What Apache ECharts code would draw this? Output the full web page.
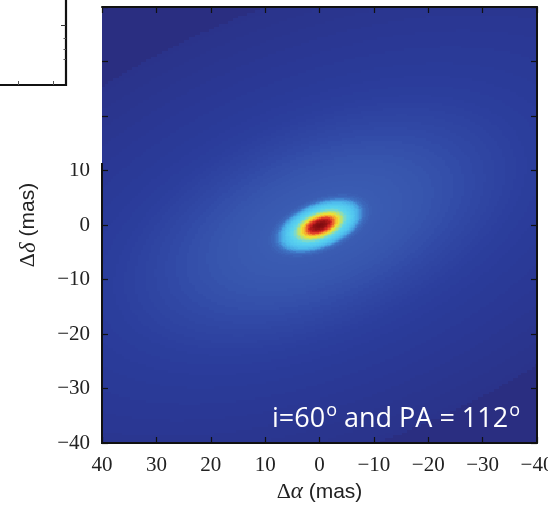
<!DOCTYPE html>
<html>
<head>
<meta charset="utf-8">
<script src="https://cdn.jsdelivr.net/npm/echarts@6/dist/echarts.min.js"></script>
<style>
  html, body { margin: 0; padding: 0; background: #ffffff; }
  #chart { width: 548px; height: 505px; }
</style>
</head>
<body>
<div id="chart"></div>
<script>
// Disk orientation (degrees)
const inclination = 60;
const positionAngle = 112;

// Brightness profile: deprojected radius (mas) -> normalised level
const profileRadius = [0, 0.25, 0.5, 0.75, 1, 1.25, 1.5, 1.75, 2, 2.25, 2.5, 2.75, 3, 3.25, 3.5, 3.75, 4, 4.25, 4.5, 4.75,
  5, 5.25, 5.5, 5.75, 6, 6.25, 6.5, 6.75, 7, 7.25, 7.5, 7.75, 8, 8.25, 8.5, 8.75, 9, 9.5,
  10, 11, 12, 14, 16, 18, 20, 22, 24, 26, 28, 30, 32, 34, 36, 38, 40, 43, 46, 50, 55, 60, 65, 70, 75, 80, 82];
const profileLevel = [1.00, 0.995, 0.99, 0.98, 0.97, 0.95, 0.93, 0.90, 0.87, 0.83, 0.78, 0.73, 0.68, 0.64, 0.60, 0.565, 0.53, 0.50, 0.47, 0.445,
  0.42, 0.405, 0.395, 0.385, 0.375, 0.365, 0.355, 0.345, 0.335, 0.323, 0.31, 0.29, 0.27, 0.25, 0.235, 0.225, 0.215, 0.205,
  0.200, 0.198, 0.196, 0.192, 0.188, 0.184, 0.178, 0.172, 0.165, 0.158, 0.150, 0.142, 0.135, 0.128, 0.122, 0.116, 0.110, 0.104, 0.098, 0.092, 0.085, 0.078, 0.072, 0.066, 0.060, 0.055, 0.025];

// Map extent and pixel sizes (mas): fine pixels inside the core box
const mapMin = -40;
const mapMax = 40;
const pixelSize = 0.5;
const corePixelSize = 0.25;
const coreBox = 10;

// Colour scale from faint to bright
const levelColors = ['#292a78', '#2a3289', '#2a3b9a', '#3149a6', '#3a5cb2', '#4079c8', '#479ddf', '#50c2ef',
  '#5ad4ee', '#7fdac8', '#a8df8e', '#cfe15a', '#ece039', '#f4c530', '#f4a330', '#ef7e2e', '#e8582a',
  '#dc3526', '#c42020', '#a01616', '#7e0c10'];

function levelAt(r) {
  let k = 0;
  while (k + 1 < profileRadius.length && profileRadius[k + 1] <= r) k++;
  return profileLevel[k];
}

const pa = positionAngle * Math.PI / 180;
const cosI = Math.cos(inclination * Math.PI / 180);
function diskLevel(x, y) {
  const u = x * Math.sin(pa) + y * Math.cos(pa);
  const w = -x * Math.cos(pa) + y * Math.sin(pa);
  return levelAt(Math.sqrt(u * u + (w / cosI) * (w / cosI)));
}

const cells = [];
for (let x = mapMin + pixelSize / 2; x < mapMax; x += pixelSize) {
  for (let y = mapMin + pixelSize / 2; y < mapMax; y += pixelSize) {
    if (Math.abs(x) < coreBox && Math.abs(y) < coreBox) continue;
    cells.push([x, y, diskLevel(x, y), pixelSize]);
  }
}
for (let x = -coreBox + corePixelSize / 2; x < coreBox; x += corePixelSize) {
  for (let y = -coreBox + corePixelSize / 2; y < coreBox; y += corePixelSize) {
    cells.push([x, y, diskLevel(x, y), corePixelSize]);
  }
}

const tickFormatter = v => (v < 0 ? '\u2212' + Math.abs(v) : String(v));

const frame = { color: '#111111', width: 2 };
const axisBase = {
  type: 'value', min: mapMin, max: mapMax, interval: 10, z: 10,
  splitLine: { show: false },
  axisLine: { show: true, onZero: false, lineStyle: frame },
  axisTick: { show: true, inside: true, length: 6, lineStyle: { color: '#111111', width: 1.2 } }
};
const labelStyle = {
  show: true, showMinLabel: true, showMaxLabel: true,
  fontFamily: 'Liberation Serif', fontSize: 21, color: '#222222',
  formatter: tickFormatter
};
const nameRich = {
  d: { fontFamily: 'Liberation Serif', fontSize: 22, color: '#222222' },
  g: { fontFamily: 'Liberation Serif', fontStyle: 'italic', fontSize: 23, color: '#222222' },
  s: { fontFamily: 'Liberation Sans', fontSize: 21, color: '#222222' }
};

const chart = echarts.init(document.getElementById('chart'), null, { renderer: 'canvas' });
chart.setOption({
  animation: false,
  backgroundColor: '#ffffff',
  grid: { left: 102, top: 7, right: 11, bottom: 62, containLabel: false, outerBoundsMode: 'none' },
  visualMap: {
    show: false, type: 'continuous', min: 0, max: 1, dimension: 2, seriesIndex: 0,
    inRange: { color: levelColors }
  },
  xAxis: [
    Object.assign({}, axisBase, {
      position: 'bottom', inverse: true,
      axisLabel: Object.assign({}, labelStyle, { margin: 12 }),
      name: '{d|\u0394}{g|\u03b1}{s| (mas)}', nameLocation: 'middle', nameGap: 34,
      nameTextStyle: { rich: nameRich }
    }),
    Object.assign({}, axisBase, { position: 'top', inverse: true, axisLabel: { show: false } })
  ],
  yAxis: [
    Object.assign({}, axisBase, {
      position: 'left',
      axisLine: { show: false, onZero: false },
      axisLabel: Object.assign({}, labelStyle, { margin: 12 }),
      name: '{d|\u0394}{g|\u03b4}{s| (mas)}', nameLocation: 'middle', nameGap: 62,
      nameTextStyle: { rich: nameRich }
    }),
    Object.assign({}, axisBase, { position: 'right', axisLabel: { show: false } })
  ],
  series: [{
    type: 'custom',
    coordinateSystem: 'cartesian2d',
    xAxisIndex: 0, yAxisIndex: 0,
    clip: true,
    progressive: 0,
    encode: { x: 0, y: 1 },
    data: cells,
    renderItem: function (params, api) {
      const x = api.value(0), y = api.value(1), h = api.value(3) / 2;
      const a = api.coord([x + h, y + h]);
      const b = api.coord([x - h, y - h]);
      const x0 = Math.floor(Math.min(a[0], b[0])), x1 = Math.ceil(Math.max(a[0], b[0]));
      const y0 = Math.floor(Math.min(a[1], b[1])), y1 = Math.ceil(Math.max(a[1], b[1]));
      return {
        type: 'rect',
        shape: { x: x0, y: y0, width: x1 - x0, height: y1 - y0 },
        style: { fill: api.visual('color') }
      };
    }
  }],
  graphic: [
    // panel cut-out at upper left
    { type: 'rect', z: 100, shape: { x: 0, y: 0, width: 101, height: 163 }, style: { fill: '#ffffff' } },
    // left frame edge below the cut-out
    { type: 'line', z: 101, shape: { x1: 102, y1: 163, x2: 102, y2: 444 }, style: { stroke: '#111111', lineWidth: 2 } },
    // corner of the neighbouring panel
    { type: 'polyline', z: 101, shape: { points: [[0, 85], [66, 85], [66, 0]] }, style: { stroke: '#111111', lineWidth: 2.2, fill: null } },
    { type: 'line', z: 101, shape: { x1: 61, y1: 25.5, x2: 66, y2: 25.5 }, style: { stroke: '#333333', lineWidth: 1 } },
    { type: 'line', z: 101, shape: { x1: 63.5, y1: 38.5, x2: 66, y2: 38.5 }, style: { stroke: '#555555', lineWidth: 1 } },
    { type: 'line', z: 101, shape: { x1: 63.5, y1: 49.5, x2: 66, y2: 49.5 }, style: { stroke: '#555555', lineWidth: 1 } },
    { type: 'line', z: 101, shape: { x1: 63.5, y1: 59.5, x2: 66, y2: 59.5 }, style: { stroke: '#555555', lineWidth: 1 } },
    { type: 'line', z: 101, shape: { x1: 18.5, y1: 81, x2: 18.5, y2: 85 }, style: { stroke: '#555555', lineWidth: 1 } },
    { type: 'line', z: 101, shape: { x1: 53.5, y1: 81, x2: 53.5, y2: 85 }, style: { stroke: '#555555', lineWidth: 1 } },
    // model annotation
    {
      type: 'text', z: 102, left: 272, top: 399,
      style: {
        text: '{m|i=60}{o|o}{m| and PA = 112}{o|o}',
        rich: {
          m: { fontFamily: 'Open Sans', fontSize: 27, fill: '#ffffff', verticalAlign: 'bottom', lineHeight: 34 },
          o: { fontFamily: 'Open Sans', fontSize: 18, fill: '#ffffff', verticalAlign: 'top', lineHeight: 34, padding: [3, 0, 0, 1] }
        }
      }
    }
  ]
});
</script>
</body>
</html>
